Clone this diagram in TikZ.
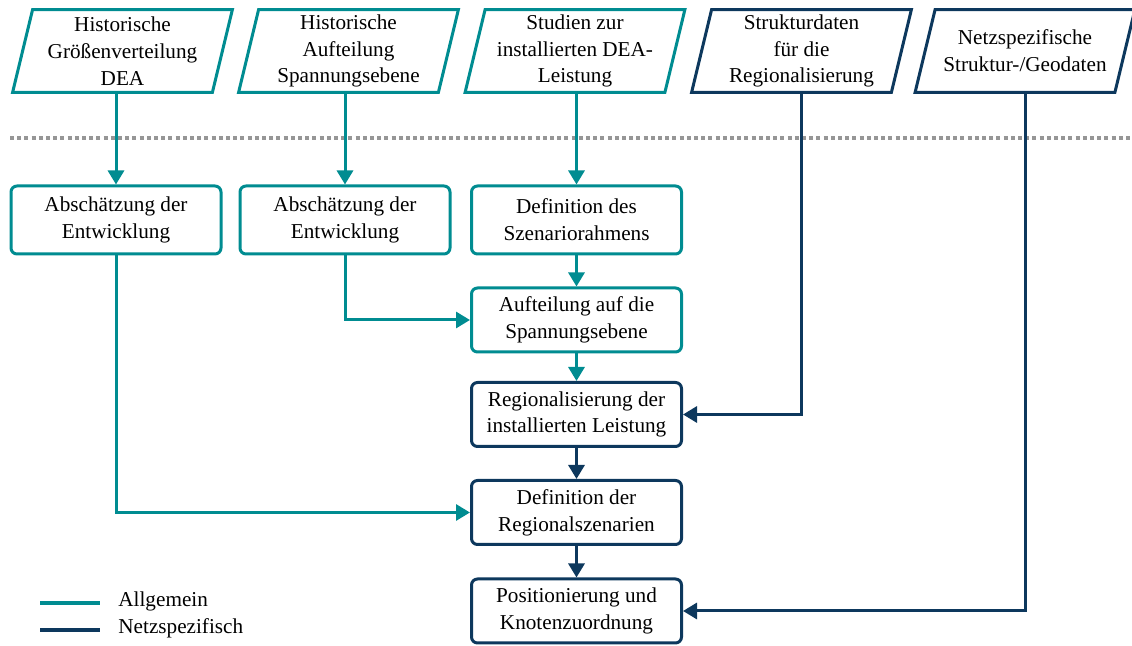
\documentclass[tikz,border=0pt]{standalone}
\usepackage{fontspec}
\setmainfont{Liberation Serif}
\usetikzlibrary{arrows.meta}
\definecolor{tealc}{RGB}{0,140,145}
\definecolor{navyc}{RGB}{13,56,93}
\definecolor{dotgray}{RGB}{150,150,150}
\tikzset{
  txt/.style={font=\fontsize{10.6pt}{13.4pt}\selectfont, align=center, inner sep=0pt, text=black},
  pbox/.style={txt, minimum width=109.5pt, minimum height=41pt},
  rbox/.style={txt, rounded corners=3pt, line width=1.5pt, minimum width=105pt, fill=white},
  conn/.style={line width=1.5pt, -{Triangle[length=7pt,width=8pt]}},
  tconn/.style={conn, tealc},
  nconn/.style={conn, navyc},
}
\begin{document}
\begin{tikzpicture}[x=0.5pt,y=-0.5pt]
\useasboundingbox (0,0) rectangle (1132,646);
% dotted separator
\draw[dotgray, line width=2pt, dash pattern=on 2pt off 1.6pt] (10,138) coordinate (sepL) -- (1132,138) coordinate (sepR);
% input parallelograms
\node[pbox] (p1) at (122.5,51) {Historische\\Größenverteilung\\DEA};
\node[pbox] (p2) at (348.5,51) {Historische\\Aufteilung\\Spannungsebene};
\node[pbox] (p3) at (575,51) {Studien zur\\installierten DEA-\\Leistung};
\node[pbox] (p4) at (801.5,51) {Strukturdaten\\für die\\Regionalisierung};
\node[pbox] (p5) at (1025,51) {Netzspezifische\\Struktur-/Geodaten};
\foreach \n/\c in {p1/tealc,p2/tealc,p3/tealc,p4/navyc,p5/navyc}
  \draw[line width=1.5pt,\c] ([xshift=10pt]\n.north west) -- (\n.north east) -- ([xshift=-10pt]\n.south east) -- (\n.south west) -- cycle;
% process boxes
\node[rbox, draw=tealc, minimum height=34pt] (b1) at (116,220) {Abschätzung der\\Entwicklung};
\node[rbox, draw=tealc, minimum height=34pt] (b2) at (345,220) {Abschätzung der\\Entwicklung};
\node[rbox, draw=tealc, minimum height=34pt] (b3) at (576.5,220) {Definition des\\Szenariorahmens};
\node[rbox, draw=tealc, minimum height=32pt] (a) at (576.5,320) {Aufteilung auf die\\Spannungsebene};
\node[rbox, draw=navyc, minimum height=32pt] (r) at (576.5,414.5) {Regionalisierung der\\installierten Leistung};
\node[rbox, draw=navyc, minimum height=32pt] (d) at (576.5,512.5) {Definition der\\Regionalszenarien};
\node[rbox, draw=navyc, minimum height=32pt] (pos) at (576.5,611) {Positionierung und\\Knotenzuordnung};
% connectors
\draw[tconn] (b1.north |- p1.south) -- (b1.north);
\draw[tconn] (p2.south -| b2.north) -- (b2.north);
\draw[tconn] (p3.south -| b3.north) -- (b3.north);
\draw[tconn] (b3.south) -- (a.north);
\draw[tconn] (b2.south) |- (a.west);
\draw[tconn] (b1.south) |- (d.west);
\draw[tconn] (a.south) -- (r.north);
\draw[nconn] (r.south) -- (d.north);
\draw[nconn] (d.south) -- (pos.north);
\draw[nconn] (p4.south) |- (r.east);
\draw[nconn] (p5.south) |- (pos.east);
% legend
\coordinate (l1a) at (40,603); \coordinate (l1b) at (100,603);
\coordinate (l2a) at (40,630); \coordinate (l2b) at (100,630);
\draw[tealc, line width=2pt] (l1a) -- (l1b);
\draw[navyc, line width=2pt] (l2a) -- (l2b);
\node[txt, anchor=west] (lg1) at (118,601) {Allgemein};
\node[txt, anchor=west] (lg2) at (118,628) {Netzspezifisch};
\end{tikzpicture}
\end{document}
